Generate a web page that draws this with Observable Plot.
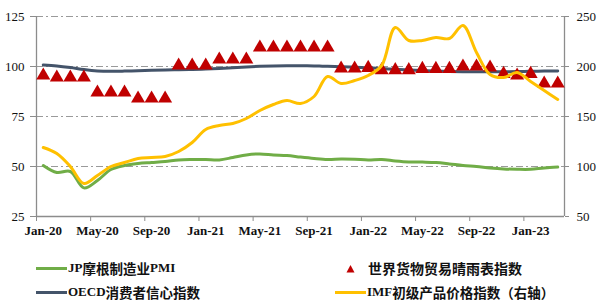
<!DOCTYPE html>
<html><head><meta charset="utf-8">
<script src="https://cdn.jsdelivr.net/npm/d3@7"></script>
<script src="https://cdn.jsdelivr.net/npm/@observablehq/plot@0.6"></script>
<style>
body{margin:0;background:#fff;}
#wrap{position:relative;width:600px;height:304px;overflow:hidden;background:#fff;}
#chart{position:absolute;left:0;top:0;}
.leg{position:absolute;height:20px;display:flex;align-items:center;white-space:nowrap;font-weight:bold;font-size:14px;color:#111;font-family:"Liberation Serif","Times New Roman","Noto Sans CJK SC",serif;}
.leg .lat{font-size:13px;}
.leg .cjk{font-family:"Noto Sans CJK SC",sans-serif;font-size:13.5px;}
.sw{display:inline-block;width:31px;height:3px;margin-right:1px;}
</style></head><body>
<div id="wrap"><div id="chart"></div>
<div class="leg" style="left:36px;top:258px;"><span class="sw" style="background:#70ad47"></span><span class="lat">JP</span><span class="cjk">摩根制造业</span><span class="lat">PMI</span></div>
<div class="leg" style="left:36px;top:282px;"><span class="sw" style="background:#44546a"></span><span class="lat">OECD</span><span class="cjk">消费者信心指数</span></div>
<div class="leg" style="left:346px;top:258px;"><svg width="9" height="9" style="margin-right:13px"><path d="M4.5,1 L8.5,8.5 L0.5,8.5 Z" fill="#c00000"/></svg><span class="cjk" style="font-size:14px">世界货物贸易晴雨表指数</span></div>
<div class="leg" style="left:335px;top:282px;"><span class="sw" style="background:#ffc000"></span><span class="lat">IMF</span><span class="cjk">初级产品价格指数（右轴）</span></div>
</div>
<script>
const months = ["Jan-20","Feb-20","Mar-20","Apr-20","May-20","Jun-20","Jul-20","Aug-20","Sep-20","Oct-20","Nov-20","Dec-20",
"Jan-21","Feb-21","Mar-21","Apr-21","May-21","Jun-21","Jul-21","Aug-21","Sep-21","Oct-21","Nov-21","Dec-21",
"Jan-22","Feb-22","Mar-22","Apr-22","May-22","Jun-22","Jul-22","Aug-22","Sep-22","Oct-22","Nov-22","Dec-22",
"Jan-23","Feb-23","Mar-23"];
const pmi = [50.5,47,47.5,39.3,43,48.5,50.5,51.5,52,52.5,53.3,53.5,
53.5,53.3,54.5,55.8,56.3,55.8,55.5,54.7,54,53.5,53.7,53.6,
53.3,53.5,52.8,52.3,52.2,52.0,51.3,50.5,50,49.3,48.8,48.6,
48.6,49.3,49.7];
const oecd = [100.8,100.3,99.5,98.5,97.8,97.6,97.7,97.9,98.1,98.3,98.4,98.5,
98.7,99.0,99.4,99.8,100.1,100.3,100.4,100.4,100.3,100.1,99.9,99.6,
99.3,99.0,98.6,98.3,98.0,97.7,97.5,97.4,97.4,97.4,97.4,97.5,
97.6,97.7,97.8];
const wto = [95.5,94.5,94.5,94.5,87,87,87,84,84,84,100.5,100.5,
100.5,103.5,103.5,103.5,109.5,109.5,109.5,109.5,109.5,109.5,99,99,
99.3,98.2,98.2,98.2,98.8,98.8,98.8,100,100,99.5,96.3,95.5,
96.3,91.5,91.5];
const imf = [119,113,100,83,91,100,104,108,109,110,115,124,
137,141,143,148,156,162,166,163,170,190,183,186,
191,201,239,226,226,229,228,241,214,192,189,194,
185,176,167];
const leftTicks = [25,50,75,100,125];
const gridTicks = [50,75,100,125];
const labelIdx = [0,4,8,12,16,20,24,28,32,36];
const boundaryIdx = labelIdx.map(i => i - 0.5);

const font = '"Liberation Serif","Times New Roman",serif';
const idx = (d,i) => i;
const chart = Plot.plot({
  width:600, height:245,
  marginTop:16, marginBottom:29, marginLeft:36, marginRight:36,
  style:{fontFamily:font, fontSize:"13px", background:"#fff", color:"#111", overflow:"visible"},
  x:{type:"linear", domain:[-0.5, months.length-0.5], axis:null},
  y:{domain:[25,125], axis:null},
  marks:[
    Plot.gridY(gridTicks,{stroke:"#9a9a9a", strokeOpacity:1, strokeWidth:1, strokeDasharray:"7,3,2,3"}),
    Plot.ruleX([-0.5, months.length-0.5],{stroke:"#8c8c8c", strokeWidth:1.3}),
    Plot.ruleY([25],{stroke:"#8c8c8c", strokeWidth:1.3}),
    Plot.axisY(leftTicks,{anchor:"left", tickSize:6, tickPadding:6, stroke:"#8c8c8c", fontSize:13, fill:"#111"}),
    Plot.axisY(leftTicks,{anchor:"right", tickSize:4, tickPadding:8, stroke:"#8c8c8c", tickFormat:d => d*2, fontSize:13, fill:"#111"}),
    Plot.axisX(boundaryIdx,{anchor:"bottom", tickSize:5, tickFormat:() => "", stroke:"#8c8c8c"}),
    Plot.axisX(labelIdx,{anchor:"bottom", tickSize:0, tickPadding:9, tickFormat:i => months[i], fontWeight:"bold", fontSize:13, fill:"#111"}),
    Plot.line(pmi,{x:idx, y:d => d, stroke:"#70ad47", strokeWidth:3, curve:"catmull-rom"}),
    Plot.line(oecd,{x:idx, y:d => d, stroke:"#44546a", strokeWidth:3, curve:"catmull-rom"}),
    Plot.dot(wto,{x:idx, y:d => d, symbol:"triangle", r:5.2, fill:"#c00000", stroke:"none"}),
    Plot.line(imf,{x:idx, y:d => d/2, stroke:"#ffc000", strokeWidth:3, curve:"catmull-rom"})
  ]
});
document.getElementById("chart").appendChild(chart);
</script>
</body></html>
